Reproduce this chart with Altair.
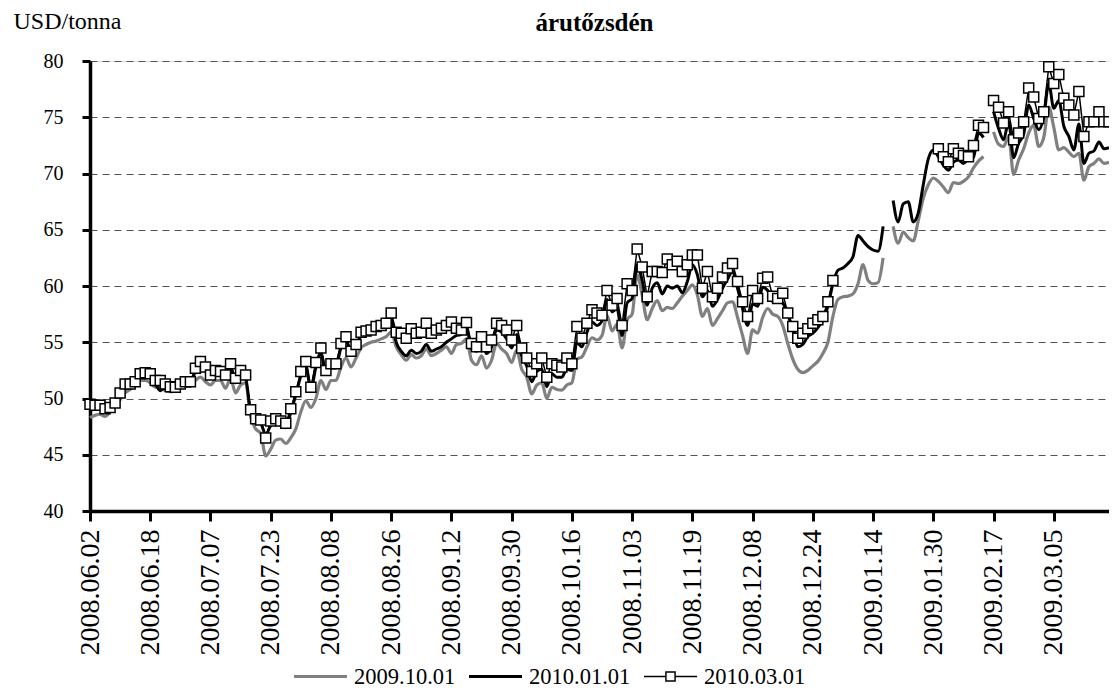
import json
import altair as alt
import pandas as pd

# ---- category labels of the x axis (every 12th trading day) ----
tick_labels = ["2008.06.02", "2008.06.18", "2008.07.07", "2008.07.23", "2008.08.08",
               "2008.08.26", "2008.09.12", "2008.09.30", "2008.10.16", "2008.11.03",
               "2008.11.19", "2008.12.08", "2008.12.24", "2009.01.14", "2009.01.30",
               "2009.02.17", "2009.03.05"]
tick_days = [0, 12, 24, 36, 48, 60, 72, 84, 96, 108, 120, 132, 144, 156, 168, 180, 192]

series_names = ["2009.10.01", "2010.01.01", "2010.03.01"]

# ---- daily prices, USD/tonna (None = no quote) ----
s_oct09 = [48.3, 48.5, 48.6, 48.4, 48.8, 49.4, 49.9, 50.5, 50.8, 51.1,
           51.6, 51.6, 51.4, 51.0, 51.0, 50.7, 50.6, 50.7, 50.9, 51.1,
           51.1, 51.6, 51.9, 51.5, 51.2, 51.6, 51.6, 50.9, 51.8, 50.5,
           51.2, 51.4, 48.4, 47.3, 46.9, 44.9, 45.5, 46.3, 46.4, 46.0,
           46.5, 47.3, 48.8, 49.8, 49.2, 50.0, 51.6, 50.8, 51.6, 51.6,
           52.8, 53.6, 52.8, 53.6, 54.5, 54.8, 55.0, 55.1, 55.3, 55.5,
           55.9, 54.6, 53.9, 53.4, 53.9, 53.6, 53.8, 54.4, 53.8, 54.0,
           54.3, 54.6, 54.0, 54.8, 54.9, 55.3, 53.4, 53.0, 53.8, 52.7,
           53.4, 54.9, 54.4, 54.0, 53.2, 54.3, 52.6, 51.9, 50.4, 51.2,
           51.4, 50.0, 51.0, 50.8, 50.75, 51.2, 51.4, 53.5, 53.7, 54.6,
           55.4, 55.2, 55.6, 57.4, 56.0, 56.6, 54.5, 57.0, 57.5, 61.0,
           59.2, 57.0, 58.0, 58.7, 57.8, 58.1, 58.0, 58.5, 59.1, 59.6,
           60.1, 59.2, 57.3, 58.0, 56.5, 57.1, 57.8, 58.5, 58.6, 57.2,
           55.6, 54.0, 56.1, 55.8, 57.2, 58.0, 57.5, 57.3, 56.5, 54.9,
           53.5, 52.6, 52.3, 52.5, 52.9, 53.3, 54.0, 55.0, 57.3, 58.8,
           59.05, 59.1, 59.3, 60.2, 61.9, 60.5, 60.2, 60.3, 62.5, None,
           65.3, 63.8, 64.8, 64.3, 64.0, 65.8, 67.8, 69.0, 69.6, 69.3,
           68.8, 68.3, 69.2, 69.1, 69.3, 69.7, 70.5, 71.1, 71.5, None,
           73.7, 72.6, 72.4, 73.3, 69.9, 71.2, 72.2, 73.6, 74.3, 72.4,
           73.2, 75.9, 74.1, 72.1, 72.3, 71.9, 71.5, 71.8, 69.4, 70.6,
           70.9, 71.3, 70.9, 71.0]

s_jan10 = [49.3, 49.2, 49.2, 48.9, 49.0, 49.4, 50.3, 51.0, 51.1, 51.3,
           51.9, 52.0, 51.8, 51.3, 50.7, 51.0, 50.9, 50.9, 51.2, 51.3,
           51.4, 52.4, 52.9, 52.5, 51.9, 52.1, 52.1, 51.8, 52.7, 51.4,
           52.2, 51.8, 48.8, 48.0, 47.8, 46.8, 47.6, 47.9, 47.6, 47.4,
           48.8, 50.3, 52.0, 52.9, 50.8, 52.8, 54.0, 52.2, 52.8, 52.9,
           54.5, 55.2, 54.0, 54.6, 55.6, 55.8, 55.9, 56.1, 56.2, 56.3,
           57.1, 55.0, 54.2, 53.8, 54.3, 54.0, 54.2, 54.8, 54.2, 54.4,
           54.6, 55.0, 55.3, 55.6, 55.7, 56.3, 54.4, 54.2, 54.9, 54.0,
           54.6, 56.1, 55.9, 55.3, 54.5, 55.7, 53.8, 52.9, 51.5, 52.4,
           52.6, 51.05, 52.2, 51.9, 51.9, 52.6, 52.5, 55.0, 54.6, 55.9,
           56.8, 56.5, 56.9, 58.8, 57.7, 58.0, 55.6, 58.5, 58.9, 61.9,
           60.5, 58.3, 59.8, 60.3, 59.3, 60.0, 59.8, 60.0, 59.4, 60.4,
           61.9, 61.0, 59.05, 59.6, 58.2, 58.8, 59.8, 60.6, 61.3, 59.8,
           58.0, 56.5, 58.4, 58.2, 59.9, 59.6, 58.6, 58.8, 58.5, 57.5,
           56.1, 54.6, 54.8, 55.5, 55.8, 56.3, 57.0, 58.2, 60.2, 61.4,
           61.6, 62.0, 62.6, 64.5, 64.0, 63.5, 63.2, 63.1, 65.3, None,
           67.6, 65.7, 67.3, 67.5, 65.7, 66.5, 69.0, 71.3, 72.1, 71.5,
           70.75, 70.3, 71.0, 71.2, 70.9, 71.3, 71.4, 73.6, 73.2, None,
           75.5, 74.0, 73.0, 74.6, 71.4, 72.7, 73.5, 76.1, 74.9, 73.9,
           75.0, 78.0, 75.8, 76.5, 74.2, 73.3, 72.1, 74.4, 70.9, 71.8,
           72.0, 72.8, 72.2, 72.3]

s_mar10 = [49.5, 49.4, 49.4, 49.1, 49.2, 49.6, 50.5, 51.3, 51.3, 51.5,
           52.2, 52.3, 52.2, 51.6, 51.6, 51.3, 51.05, 51.0, 51.3, 51.5,
           51.5, 52.7, 53.3, 52.8, 52.1, 52.5, 52.4, 52.1, 53.1, 51.8,
           52.5, 52.1, 49.0, 48.2, 48.1, 46.5, 48.0, 48.2, 48.0, 47.8,
           49.1, 50.6, 52.4, 53.3, 51.0, 53.2, 54.5, 52.5, 53.1, 53.1,
           54.9, 55.5, 54.2, 54.8, 55.9, 56.0, 56.1, 56.4, 56.5, 56.7,
           57.6, 55.9, 55.8, 55.35, 56.2, 55.8, 55.9, 56.7, 55.8, 56.1,
           56.25, 56.5, 56.8, 56.25, 56.1, 56.75, 54.9, 54.6, 55.5, 54.6,
           55.2, 56.7, 56.5, 56.1, 55.2, 56.5, 54.5, 53.6, 52.4, 53.1,
           53.6, 51.9, 53.1, 52.95, 52.8, 53.6, 53.1, 56.4, 55.35, 56.7,
           57.9, 57.6, 57.4, 59.6, 58.3, 58.9, 56.5, 60.2, 59.6, 63.3,
           61.7, 59.05, 61.3, 61.3, 61.2, 62.4, 61.9, 62.2, 61.3, 61.9,
           62.75, 62.75, 59.8, 61.3, 59.05, 59.8, 60.8, 61.6, 62.0, 60.4,
           58.6, 57.3, 59.6, 58.9, 60.7, 60.8, 59.1, 58.9, 59.35, 57.6,
           56.4, 55.35, 55.8, 56.2, 56.7, 57.0, 57.3, 58.6, 60.5, None,
           None, None, None, None, None, None, None, None, None, None,
           None, None, None, None, None, None, None, None, None, 72.2,
           71.5, 71.05, 72.2, 71.8, 71.6, 71.5, 72.5, 74.3, 74.1, None,
           76.5, 75.9, 74.5, 75.5, 73.0, 73.6, 74.6, 77.6, 76.8, 74.9,
           75.5, 79.5, 78.0, 78.8, 76.7, 76.1, 75.2, 77.3, 73.3, 74.6,
           74.6, 75.5, 74.6, 74.6]

# ---- long table, split into continuous segments at the gaps ----
rows = []
for name, vals in zip(series_names, [s_oct09, s_jan10, s_mar10]):
    seg = 0
    for i, v in enumerate(vals):
        if v is None:
            seg += 1
            continue
        rows.append({"day": i, "value": v, "series": name, "seg": f"{name}-{seg}"})
df = pd.DataFrame(rows)

FONT = "Liberation Serif, Times New Roman, Tinos, DejaVu Serif, serif"
label_expr = json.dumps(tick_labels) + "[round(datum.value / 12)]"

x_enc = alt.X(
    "day:Q",
    scale=alt.Scale(domain=[0, 203], nice=False, zero=False),
    axis=alt.Axis(
        values=tick_days, labelExpr=label_expr, title=None, grid=False,
        labelAngle=270, labelAlign="right", labelBaseline="middle",
        labelFont=FONT, labelFontSize=28, labelColor="black", labelPadding=8,
        labelOverlap=False, labelFlush=False,
        tickSize=10, tickWidth=3, tickColor="black",
        domainColor="black", domainWidth=3.5,
    ),
)
y_enc = alt.Y(
    "value:Q",
    scale=alt.Scale(domain=[40, 80], nice=False, zero=False),
    axis=alt.Axis(
        values=[40, 45, 50, 55, 60, 65, 70, 75, 80],
        labelFont=FONT, labelFontSize=20, labelColor="black", labelPadding=19,
        tickSize=8, tickWidth=3, tickColor="black",
        domainColor="black", domainWidth=3.5,
        grid=True, gridDash=[7, 5], gridColor="#555555", gridWidth=1,
        title="USD/tonna", titleAngle=0, titleX=-77, titleY=-33,
        titleAlign="left", titleBaseline="alphabetic",
        titleFont=FONT, titleFontSize=24, titleFontWeight="normal", titleColor="black",
    ),
)

base = alt.Chart(df).encode(x=x_enc, y=y_enc)

gray_line = base.transform_filter(alt.datum.series == series_names[0]).mark_line(
    color="#808080", strokeWidth=3.2, interpolate="monotone"
).encode(detail="seg:N")

black_line = base.transform_filter(alt.datum.series == series_names[1]).mark_line(
    color="#000000", strokeWidth=3, interpolate="monotone"
).encode(detail="seg:N")

sq_line = base.transform_filter(alt.datum.series == series_names[2]).mark_line(
    color="#000000", strokeWidth=1.5
).encode(detail="seg:N")

sq_points = base.transform_filter(alt.datum.series == series_names[2]).mark_point(
    shape="square", filled=True, color="white", stroke="black",
    strokeWidth=1.5, size=100, opacity=1
)

# legend symbols: line for the first two, line with a square for the third
line_sym = "M-1,-0.055H1V0.055H-1Z"
sq_sym = ("M-1,-0.03H-0.2V0.03H-1Z M0.2,-0.03H1V0.03H0.2Z "
          "M-0.2,-0.2H0.2V0.2H-0.2Z M-0.145,-0.145V0.145H0.145V-0.145Z")

leg = alt.Legend(
    title=None, orient="none", legendX=204, legendY=589, direction="horizontal",
    labelFont=FONT, labelFontSize=22.5, labelColor="black", labelOffset=7,
    columnPadding=13, symbolSize=2809, symbolStrokeWidth=0, padding=0,
)

legend_layer = base.transform_filter("false").mark_point(
    filled=True, opacity=1, size=2809, strokeWidth=0
).encode(
    color=alt.Color("series:N", scale=alt.Scale(domain=series_names,
                    range=["#808080", "#000000", "#000000"]), legend=leg),
    shape=alt.Shape("series:N", scale=alt.Scale(domain=series_names,
                    range=[line_sym, line_sym, sq_sym]), legend=leg),
)

chart = alt.layer(gray_line, black_line, sq_line, sq_points, legend_layer).properties(
    width=1019, height=450,
    title=alt.TitleParams("árutőzsdén", font=FONT, fontSize=25, fontWeight="bold",
                          color="black", anchor="middle", frame="group", offset=4,
                          dx=-5, dy=31),
    padding={"left": 82, "top": 53, "right": 0, "bottom": 180},
    autosize=alt.AutoSizeParams(type="none"),
).configure_view(strokeWidth=0).configure(background="white")

chart.save("out.html", embed_options={"renderer": "svg", "actions": False})
